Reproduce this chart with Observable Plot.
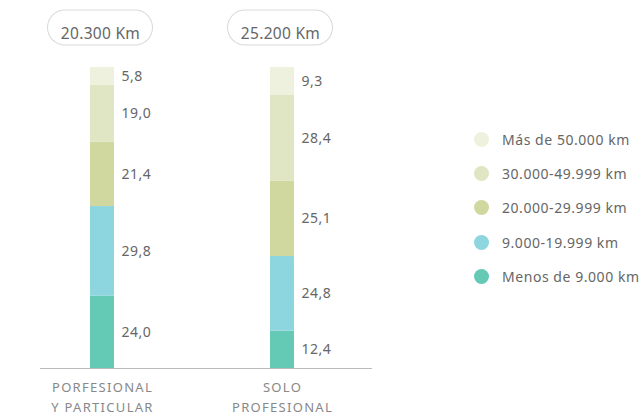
<!DOCTYPE html>
<html>
<head>
<meta charset="utf-8">
<script src="https://cdn.jsdelivr.net/npm/d3@7"></script>
<script src="https://cdn.jsdelivr.net/npm/@observablehq/plot@0.6"></script>
<style>
  html, body { margin: 0; padding: 0; background: #fff; }
  #wrap { position: relative; width: 641px; height: 416px; font-family: "Noto Sans", sans-serif; }
  #wrap svg { font-family: "Noto Sans", sans-serif; }
  #legend { position: absolute; left: 474px; top: 122px; }
  .row { display: flex; align-items: center; height: 34.3px; font-size: 14px; letter-spacing: 0.55px; color: #666; white-space: nowrap; }
  .sw { width: 15px; height: 15px; border-radius: 50%; margin-right: 13px; flex: none; }
</style>
</head>
<body>
<div id="wrap"></div>
<script>
const categories = ["Porfesional y particular", "Solo profesional"];
const tickLabels = ["PORFESIONAL\nY PARTICULAR", "SOLO\nPROFESIONAL"];
const totals = ["20.300 Km", "25.200 Km"];
const bands = ["Menos de 9.000 km", "9.000-19.999 km", "20.000-29.999 km", "30.000-49.999 km", "Más de 50.000 km"];
const serieParticular = [24.0, 29.8, 21.4, 19.0, 5.8];
const serieProfesional = [12.4, 24.8, 25.1, 28.4, 9.3];
const colors = ["#64c9b5", "#8dd5df", "#d0d89f", "#e0e5c3", "#eef1de"];

const data = bands.flatMap((b, i) => [
  {cat: categories[0], band: b, value: serieParticular[i]},
  {cat: categories[1], band: b, value: serieProfesional[i]}
]);

const fmt = v => v.toFixed(1).replace(".", ",");
const pill = {x: d => d, y: () => 100, dy: -40, insetLeft: 53, insetRight: 57, strokeLinecap: "round"};

const plot = Plot.plot({
  width: 641,
  height: 416,
  marginTop: 67,
  marginBottom: 48,
  marginLeft: 40,
  marginRight: 269,
  x: {domain: categories, range: [12, 372], padding: 0, label: null},
  y: {domain: [0, 100], axis: null},
  color: {domain: bands, range: colors},
  style: {fontFamily: "Noto Sans, sans-serif", overflow: "visible"},
  marks: [
    Plot.barY(data, Plot.stackY({x: "cat", y: "value", z: "band", fill: "band", insetLeft: 78, insetRight: 78})),
    Plot.text(data, Plot.stackY({x: "cat", y: "value", z: "band", text: d => fmt(d.value), dx: 19, textAnchor: "start", fontSize: 14, fill: "#666"})),
    Plot.ruleY([0], {stroke: "#bbb", strokeWidth: 1}),
    Plot.axisX({tickSize: 0, tickPadding: 9, fontSize: 13, lineHeight: 1.55, fill: "#888",
      tickFormat: d => tickLabels[categories.indexOf(d)], label: null}),
    Plot.tickY(categories, {...pill, stroke: "#d9d9d9", strokeWidth: 36}),
    Plot.tickY(categories, {...pill, stroke: "#fff", strokeWidth: 34}),
    Plot.text(categories, {x: d => d, frameAnchor: "top", dy: -40, dx: -2, text: (d, i) => totals[i], fontSize: 15.5, fill: "#666"})
  ]
});

const wrap = document.getElementById("wrap");
wrap.appendChild(plot);

const svg = d3.select(plot);
svg.selectAll("text").each(function() {
  const t = this.textContent;
  if (/^\d+,\d$/.test(t)) this.style.letterSpacing = "0.5px";
  else if (/Km$/.test(t)) this.style.letterSpacing = "0.3px";
  else if (/^[A-Z ]+$/.test(t) || this.querySelector("tspan")) this.style.letterSpacing = "1.3px";
});

// legend
const legend = document.createElement("div");
legend.id = "legend";
for (let i = bands.length - 1; i >= 0; i--) {
  const row = document.createElement("div");
  row.className = "row";
  const sw = document.createElement("span");
  sw.className = "sw";
  sw.style.background = colors[i];
  const t = document.createElement("span");
  t.textContent = bands[i];
  row.appendChild(sw); row.appendChild(t);
  legend.appendChild(row);
}
wrap.appendChild(legend);
</script>
</body>
</html>
